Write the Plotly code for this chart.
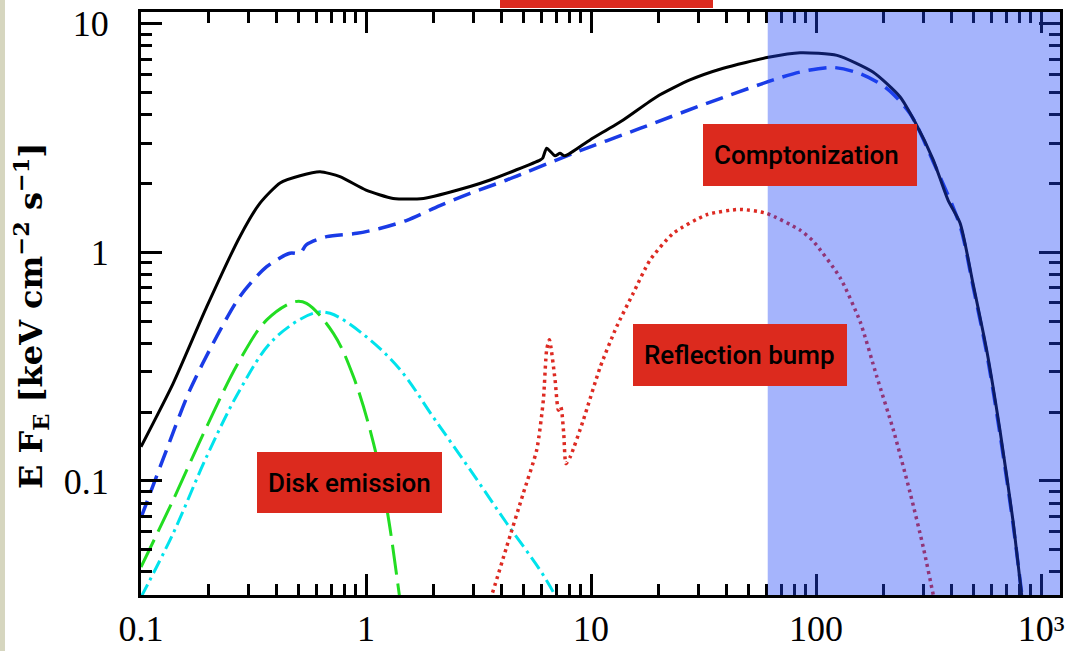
import numpy as np
import plotly.graph_objects as go

# ---- data ----
total_E = [0.1, 0.139, 0.196, 0.275, 0.338, 0.415, 0.509, 0.625, 0.766, 1.0, 1.32, 1.80, 2.9, 3.56,
           5.93, 6.1, 6.35, 6.92, 7.28, 7.66, 9.9, 13.9, 19.6, 27.5, 38.7, 61.4, 84.9, 124, 179, 236,
           275, 331, 386, 437, 500, 574, 657, 752, 820, 850]
total_F = [0.141, 0.267, 0.578, 1.17, 1.64, 2.01, 2.16, 2.25, 2.14, 1.87, 1.72, 1.72, 1.94, 2.07,
           2.53, 2.58, 2.85, 2.64, 2.71, 2.64, 3.10, 3.79, 4.79, 5.67, 6.38, 7.12, 7.46, 7.26, 6.14, 4.79,
           3.72, 2.55, 1.69, 1.34, 0.719, 0.371, 0.166, 0.066, 0.0317, 0.025]

compt_E = [0.1, 0.130, 0.165, 0.217, 0.275, 0.362, 0.459, 0.509, 0.544, 0.668, 0.91, 1.15, 1.52, 2.13,
           2.9, 4.22, 8.34, 16.5, 32.7, 64.6, 84.9, 119, 157, 206, 262, 331, 437, 500, 574, 657, 752, 850]
compt_F = [0.069, 0.137, 0.25, 0.428, 0.64, 0.865, 0.99, 0.99, 1.08, 1.17, 1.21, 1.27, 1.38, 1.60,
           1.81, 2.07, 2.71, 3.48, 4.48, 5.67, 6.14, 6.43, 6.04, 5.21, 4.03, 2.50, 1.30, 0.70, 0.36, 0.16,
           0.064, 0.024]

disk_E = [0.1, 0.139, 0.196, 0.275, 0.362, 0.483, 0.544, 0.716, 0.879, 1.08, 1.24, 1.39, 1.45]
disk_F = [0.042, 0.0826, 0.173, 0.338, 0.506, 0.608, 0.598, 0.442, 0.286, 0.146, 0.0747, 0.0345, 0.025]

disk2_E = [0.1, 0.139, 0.196, 0.275, 0.387, 0.583, 0.692, 1.0, 1.42, 1.99, 2.9, 4.22, 5.93, 6.9, 7.5]
disk2_F = [0.031, 0.059, 0.128, 0.25, 0.414, 0.541, 0.541, 0.428, 0.306, 0.19, 0.112, 0.0653, 0.0408,
           0.0317, 0.026]

refl_E = [3.3, 3.62, 4.22, 5.0, 5.74, 6.14, 6.35, 6.53, 6.92, 7.16, 7.34, 7.56, 7.74, 8.1, 9.25, 11.0,
          13.0, 15.4, 18.3, 23.2, 32.7, 45.9, 60.2, 84.9, 97, 128, 157, 186, 221, 262, 300, 332, 350]
refl_F = [0.025, 0.0317, 0.0516, 0.0883, 0.137, 0.226, 0.374, 0.414, 0.277, 0.204, 0.211, 0.162, 0.119,
          0.128, 0.185, 0.316, 0.473, 0.662, 0.925, 1.21, 1.46, 1.54, 1.48, 1.25, 1.12, 0.773, 0.497,
          0.287, 0.166, 0.0886, 0.051, 0.0317, 0.025]

shade_start = 61.0
x_range = [0.1, 1214]
y_range = [0.0317, 11.24]

x_tickvals = [0.1, 1, 10, 100, 1000]
x_ticktext = ["0.1", "1", "10", "100", "10³"]
y_tickvals = [0.1, 1, 10]
y_ticktext = ["0.1", "1", "10"]
x_minor = [m * d for d in [0.1, 1, 10, 100] for m in range(2, 10)]
y_minor = [m * d for d in [0.01, 0.1, 1] for m in range(2, 10) if 0.03 <= m * d <= 11]

labels = ["Comptonization", "Disk emission", "Reflection bump"]

# ---- figure ----
fig = go.Figure()
fig.add_trace(go.Scatter(x=disk2_E, y=disk2_F, mode="lines",
                         line=dict(color="#00e3ec", width=3, dash="14px,5px,3px,5px",
                                   shape="spline", smoothing=1)))
fig.add_trace(go.Scatter(x=disk_E, y=disk_F, mode="lines",
                         line=dict(color="#22dd22", width=3, dash="30px,9px",
                                   shape="spline", smoothing=1)))
fig.add_trace(go.Scatter(x=refl_E, y=refl_F, mode="lines",
                         line=dict(color="#dd2a22", width=3.5, dash="3px,4px",
                                   shape="spline", smoothing=0.6)))
fig.add_trace(go.Scatter(x=compt_E, y=compt_F, mode="lines",
                         line=dict(color="#1a3be6", width=3.5, dash="18px,9px",
                                   shape="spline", smoothing=0.8)))
fig.add_trace(go.Scatter(x=total_E, y=total_F, mode="lines",
                         line=dict(color="black", width=3, shape="spline", smoothing=0.6)))

# shaded band (drawn above the curves, semi-transparent)
fig.add_shape(type="rect", xref="x", yref="paper", x0=shade_start, x1=x_range[1], y0=0, y1=1,
              fillcolor="rgba(30,67,247,0.4)", line=dict(width=0), layer="above")

# left beige strip of the page
fig.add_shape(type="rect", xref="paper", yref="paper", x0=-0.2, x1=-0.148, y0=-0.2, y1=1.1,
              fillcolor="#d6d6bf", line=dict(width=0), layer="below")

L, R, T, B = 141, 1060, 12, 595
def px2paper(px, py):
    return (px - L) / (R - L), (B - py) / (B - T)

# red label boxes
boxes = [(labels[0], 703, 124, 917, 186, 712),
         (labels[1], 257, 452, 442, 513, 266),
         (labels[2], 633, 324, 847, 386, 642)]
for text, x0, y0, x1, y1, tx in boxes:
    a0, b0 = px2paper(x0, y1)
    a1, b1 = px2paper(x1, y0)
    fig.add_shape(type="rect", xref="paper", yref="paper", x0=a0, x1=a1, y0=b0, y1=b1,
                  fillcolor="#dc2a1e", line=dict(width=0), layer="above")
    ax, ay = px2paper(tx, (y0 + y1) / 2)
    fig.add_annotation(xref="paper", yref="paper", x=ax, y=ay, text=text, showarrow=False,
                       xanchor="left", yanchor="middle",
                       font=dict(family="Roboto", size=26, color="black", weight=500))

# partially visible box at the top
a0, b0 = px2paper(500, 8)
a1, b1 = px2paper(713, -60)
fig.add_shape(type="rect", xref="paper", yref="paper", x0=a0, x1=a1, y0=b0, y1=b1,
              fillcolor="#dc2a1e", line=dict(width=0), layer="above")

# y-axis title
tx, ty = px2paper(31, 316)
fig.add_annotation(xref="paper", yref="paper", x=tx, y=ty, textangle=-90, showarrow=False,
                   xanchor="center", yanchor="middle",
                   text="E F<sub>E</sub> [keV cm<sup>−2</sup> s<sup>−1</sup>]",
                   font=dict(family="DejaVu Serif", size=32, color="black", weight="bold"))

axis_common = dict(type="log", showline=True, linecolor="black", linewidth=3, mirror="allticks",
                   ticks="inside", ticklen=21, tickwidth=3, tickcolor="black", showgrid=False,
                   zeroline=False, tickmode="array", automargin=False,
                   tickfont=dict(family="Liberation Serif", size=36, color="black"))

fig.update_xaxes(**axis_common, range=[np.log10(x_range[0]), np.log10(x_range[1])],
                 tickvals=x_tickvals, ticktext=x_ticktext, ticklabelstandoff=0,
                 minor=dict(ticks="inside", ticklen=11, tickwidth=3, tickcolor="black",
                            tickmode="array", tickvals=x_minor, showgrid=False))
fig.update_yaxes(**axis_common, range=[np.log10(y_range[0]), np.log10(y_range[1])],
                 tickvals=y_tickvals, ticktext=y_ticktext, ticklabelstandoff=22,
                 minor=dict(ticks="inside", ticklen=11, tickwidth=3, tickcolor="black",
                            tickmode="array", tickvals=y_minor, showgrid=False))

fig.update_layout(width=1072, height=651, margin=dict(l=L, r=1072 - R, t=T, b=651 - B),
                  paper_bgcolor="white", plot_bgcolor="white", showlegend=False)

fig.write_html("out.html", config={"displayModeBar": False},
               post_script="document.body.style.margin='0px';")
